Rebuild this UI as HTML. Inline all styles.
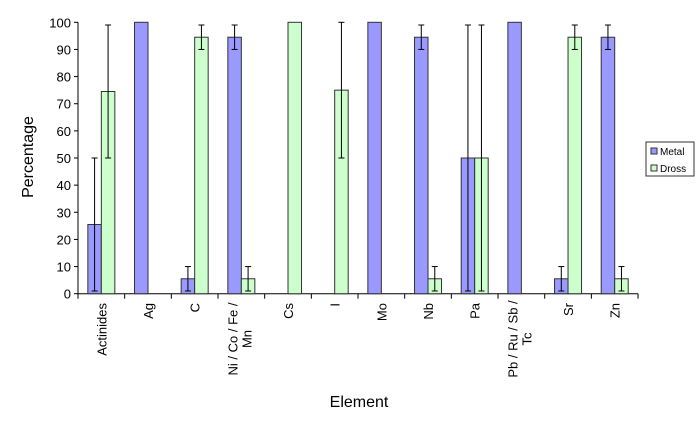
<!DOCTYPE html>
<html><head><meta charset="utf-8"><style>body{margin:0;background:#fff}svg{display:block}text{font-family:"Liberation Sans",Arial,sans-serif;fill:#000}</style></head><body>
<svg width="700" height="428" viewBox="0 0 700 428" xmlns="http://www.w3.org/2000/svg">
<g id="bars"></g>
<script>
(function(){
var ns="http://www.w3.org/2000/svg",s=document.querySelector('svg');
function el(t,a,txt){var e=document.createElementNS(ns,t);for(var k in a)e.setAttribute(k,a[k]);if(txt!=null)e.textContent=txt;s.appendChild(e);return e;}
var y0=293.7,sc=2.714,x0=78,w=46.67,bw=13.5;
function Y(v){return y0-v*sc;}
// y ticks
for(var v=0;v<=100;v+=10){el('line',{x1:74,x2:78,y1:Y(v),y2:Y(v),stroke:'#000','stroke-width':1});el('text',{x:71,y:Y(v)+5,'text-anchor':'end','font-size':13},v);}
el('line',{x1:78,x2:78,y1:Y(100),y2:y0,stroke:'#000'});
el('line',{x1:78,x2:638,y1:y0,y2:y0,stroke:'#000'});
for(var i=0;i<=12;i++){var tx=x0+w*i;el('line',{x1:tx,x2:tx,y1:y0,y2:y0+5,stroke:'#000'});}
var d=[["Actinides",[25.5,1,50],[74.5,50,99]],["Ag",[100],null],["C",[5.5,1,10],[94.5,90,99]],[["Ni / Co / Fe /","Mn"],[94.5,90,99],[5.5,1,10]],["Cs",null,[100]],["I",null,[75,50,100]],["Mo",[100],null],["Nb",[94.5,90,99],[5.5,1,10]],["Pa",[50,1,99],[50,1,99]],[["Pb / Ru / Sb /","Tc"],[100],null],["Sr",[5.5,1,10],[94.5,90,99]],["Zn",[94.5,90,99],[5.5,1,10]]];
d.forEach(function(r,i){var cx=x0+w*(i+0.5);
[[r[1],cx-bw,'#9999ff'],[r[2],cx,'#ccffcc']].forEach(function(b){if(!b[0])return;var v=b[0][0];
el('rect',{x:b[1],y:Y(v),width:bw,height:y0-Y(v),fill:b[2],stroke:'#333','stroke-width':1});
if(b[0].length>1){var ex=b[1]+bw/2;el('line',{x1:ex,x2:ex,y1:Y(b[0][2]),y2:Y(b[0][1]),stroke:'#000'});
el('line',{x1:ex-3,x2:ex+3,y1:Y(b[0][2]),y2:Y(b[0][2]),stroke:'#000'});el('line',{x1:ex-3,x2:ex+3,y1:Y(b[0][1]),y2:Y(b[0][1]),stroke:'#000'});}});
if(typeof r[0]=='string'){el('text',{x:0,y:0,'font-size':13,'text-anchor':'end',transform:'translate('+(cx+5)+',303) rotate(-90)'},r[0]);}
else{el('text',{x:0,y:0,'font-size':13,'text-anchor':'middle',transform:'translate('+(cx-4)+',339) rotate(-90)'},r[0][0]);
el('text',{x:0,y:0,'font-size':13,'text-anchor':'middle',transform:'translate('+(cx+10)+',339) rotate(-90)'},r[0][1]);}
});
el('text',{x:0,y:0,'font-size':16,'text-anchor':'middle',transform:'translate(33,157) rotate(-90)'},'Percentage');
el('text',{x:359,y:407,'font-size':16,'text-anchor':'middle'},'Element');
el('rect',{x:646,y:142,width:48,height:34,fill:'#fff',stroke:'#333'});
el('rect',{x:651,y:148,width:6,height:6,fill:'#9999ff',stroke:'#333'});
el('rect',{x:651,y:165,width:6,height:6,fill:'#ccffcc',stroke:'#333'});
el('text',{x:660,y:155,'font-size':10},'Metal');
el('text',{x:660,y:172,'font-size':10},'Dross');
})();
</script>
</svg>
</body></html>
